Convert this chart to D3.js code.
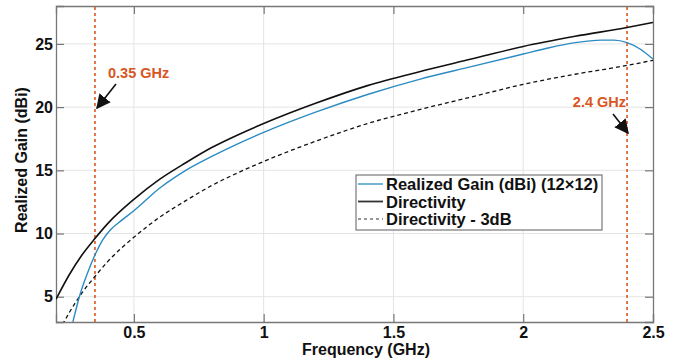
<!DOCTYPE html>
<html>
<head>
<meta charset="utf-8">
<script src="https://cdn.jsdelivr.net/npm/d3@7"></script>
<style>
  body { margin: 0; background: #fff; }
  svg text { font-family: "Liberation Sans", Arial, Helvetica, sans-serif; font-weight: bold; }
</style>
</head>
<body>
<svg id="chart" width="687" height="363"></svg>
<script>
// Frequencies (GHz) and values (dBi).
const freqDir = [0.2, 0.25, 0.3, 0.35, 0.4, 0.5, 0.6, 0.7, 0.8, 0.9, 1.0, 1.2, 1.4, 1.6, 1.8, 2.0, 2.2, 2.4, 2.5];
const directivity = [4.8, 6.7, 8.3, 9.6, 10.8, 12.7, 14.3, 15.6, 16.8, 17.8, 18.7, 20.3, 21.7, 22.8, 23.8, 24.8, 25.6, 26.3, 26.7];
const directivityMinus3 = [1.8, 3.7, 5.3, 6.6, 7.8, 9.7, 11.3, 12.6, 13.8, 14.8, 15.7, 17.3, 18.7, 19.8, 20.8, 21.8, 22.6, 23.3, 23.7];

const freqGain = [0.265, 0.29, 0.32, 0.35, 0.38, 0.41, 0.45, 0.5, 0.6, 0.7, 0.8, 0.9, 1.0, 1.2, 1.4, 1.6, 1.8, 2.0, 2.1, 2.2, 2.3, 2.35, 2.4, 2.45, 2.5];
const realizedGain = [3.0, 5.0, 6.8, 8.3, 9.5, 10.3, 11.0, 11.8, 13.6, 15.0, 16.1, 17.1, 18.0, 19.6, 21.0, 22.2, 23.2, 24.2, 24.7, 25.1, 25.3, 25.3, 25.1, 24.6, 23.8];

const xTicks = [0.5, 1, 1.5, 2, 2.5];
const yTicks = [5, 10, 15, 20, 25];
const markers = [0.35, 2.4];
const legendLabels = ["Realized Gain (dBi) (12\u00d712)", "Directivity", "Directivity - 3dB"];

const svg = d3.select("#chart");
const margin = { left: 56, top: 6, right: 34, bottom: 41 };
const W = 687, H = 363;
const x = d3.scaleLinear().domain([0.2, 2.5]).range([margin.left, W - margin.right]);
const y = d3.scaleLinear().domain([3, 28]).range([H - margin.bottom, margin.top]);

const orange = "#d9561f";
const blue = "#2a8bc2";

// clip
svg.append("defs").append("clipPath").attr("id", "clip")
  .append("rect")
  .attr("x", x(0.2)).attr("y", y(28))
  .attr("width", x(2.5) - x(0.2)).attr("height", y(3) - y(28));

// grid
const grid = svg.append("g");
grid.selectAll(".gx").data(xTicks.filter(d => d < 2.5)).join("line")
  .attr("x1", d => x(d)).attr("x2", d => x(d))
  .attr("y1", y(3)).attr("y2", y(28))
  .attr("stroke", "#e4e4e4").attr("stroke-width", 1);
grid.selectAll(".gy").data(yTicks).join("line")
  .attr("x1", x(0.2)).attr("x2", x(2.5))
  .attr("y1", d => y(d)).attr("y2", d => y(d))
  .attr("stroke", "#e4e4e4").attr("stroke-width", 1);

// axes
const axisColor = "#777";
const xAxis = svg.append("g").attr("transform", `translate(0,${y(3)})`)
  .call(d3.axisBottom(x).tickValues(xTicks).tickSize(-8).tickPadding(5).tickFormat(d3.format("")));
const xTop = svg.append("g").attr("transform", `translate(0,${y(28)})`)
  .call(d3.axisTop(x).tickValues(xTicks).tickSize(-8).tickFormat(""));
const yAxis = svg.append("g").attr("transform", `translate(${x(0.2)},0)`)
  .call(d3.axisLeft(y).tickValues(yTicks).tickSize(-8).tickPadding(3));
const yRight = svg.append("g").attr("transform", `translate(${x(2.5)},0)`)
  .call(d3.axisRight(y).tickValues(yTicks).tickSize(-8).tickFormat(""));
[xAxis, xTop, yAxis, yRight].forEach(g => {
  g.select(".domain").attr("stroke", axisColor).attr("stroke-width", 1.3);
  g.selectAll(".tick line").attr("stroke", axisColor).attr("stroke-width", 1.2);
  g.selectAll("text").attr("fill", "#111").style("font-size", "16px");
});

// curves
const line = d3.line().x(d => x(d[0])).y(d => y(d[1])).curve(d3.curveMonotoneX);
const plot = svg.append("g").attr("clip-path", "url(#clip)");

// marker lines
plot.selectAll(".mk").data(markers).join("line")
  .attr("x1", d => x(d)).attr("x2", d => x(d))
  .attr("y1", y(3)).attr("y2", y(28))
  .attr("stroke", orange).attr("stroke-width", 1.6).attr("stroke-dasharray", "3,3");

plot.append("path").datum(d3.zip(freqDir, directivityMinus3))
  .attr("d", line).attr("fill", "none").attr("stroke", "#111")
  .attr("stroke-width", 1.3).attr("stroke-dasharray", "4,3");
plot.append("path").datum(d3.zip(freqDir, directivity))
  .attr("d", line).attr("fill", "none").attr("stroke", "#111").attr("stroke-width", 1.6);
plot.append("path").datum(d3.zip(freqGain, realizedGain))
  .attr("d", line).attr("fill", "none").attr("stroke", blue).attr("stroke-width", 1.4);

// annotations
svg.append("defs").append("marker")
  .attr("id", "arrow").attr("viewBox", "0 0 10 10").attr("refX", 9).attr("refY", 5)
  .attr("markerWidth", 9).attr("markerHeight", 9).attr("orient", "auto")
  .append("path").attr("d", "M0,0 L10,5 L0,10 Z").attr("fill", "#111");

svg.append("text").attr("x", 108).attr("y", 78).attr("fill", orange)
  .style("font-size", "14.5px").text("0.35 GHz");
svg.append("line").attr("x1", 116).attr("y1", 84).attr("x2", 97).attr("y2", 108)
  .attr("stroke", "#111").attr("stroke-width", 1.6).attr("marker-end", "url(#arrow)");

svg.append("text").attr("x", 626).attr("y", 107).attr("text-anchor", "end").attr("fill", orange)
  .style("font-size", "14.5px").text("2.4 GHz");
svg.append("line").attr("x1", 613).attr("y1", 114).attr("x2", 628).attr("y2", 133)
  .attr("stroke", "#111").attr("stroke-width", 1.6).attr("marker-end", "url(#arrow)");

// axis labels
svg.append("text").attr("x", 366).attr("y", 355).attr("text-anchor", "middle")
  .attr("fill", "#111").style("font-size", "16px").text("Frequency (GHz)");
svg.append("text").attr("transform", `translate(27,160) rotate(-90)`)
  .attr("text-anchor", "middle").attr("fill", "#111").style("font-size", "16px")
  .text("Realized Gain (dBi)");

// legend
const lg = svg.append("g").attr("transform", "translate(356,175)");
lg.append("rect").attr("width", 246).attr("height", 55)
  .attr("fill", "#fff").attr("stroke", "#777").attr("stroke-width", 1.2);
const styles = [
  { stroke: blue, dash: null, w: 1.3 },
  { stroke: "#333", dash: null, w: 1.8 },
  { stroke: "#333", dash: "3,3", w: 1.2 }
];
legendLabels.forEach((t, i) => {
  const yy = 9 + i * 17.5;
  lg.append("line").attr("x1", 2).attr("x2", 27).attr("y1", yy).attr("y2", yy)
    .attr("stroke", styles[i].stroke).attr("stroke-width", styles[i].w)
    .attr("stroke-dasharray", styles[i].dash);
  lg.append("text").attr("x", 30).attr("y", yy + 6).attr("fill", "#111")
    .style("font-size", "16.5px").text(t);
});
</script>
</body>
</html>
